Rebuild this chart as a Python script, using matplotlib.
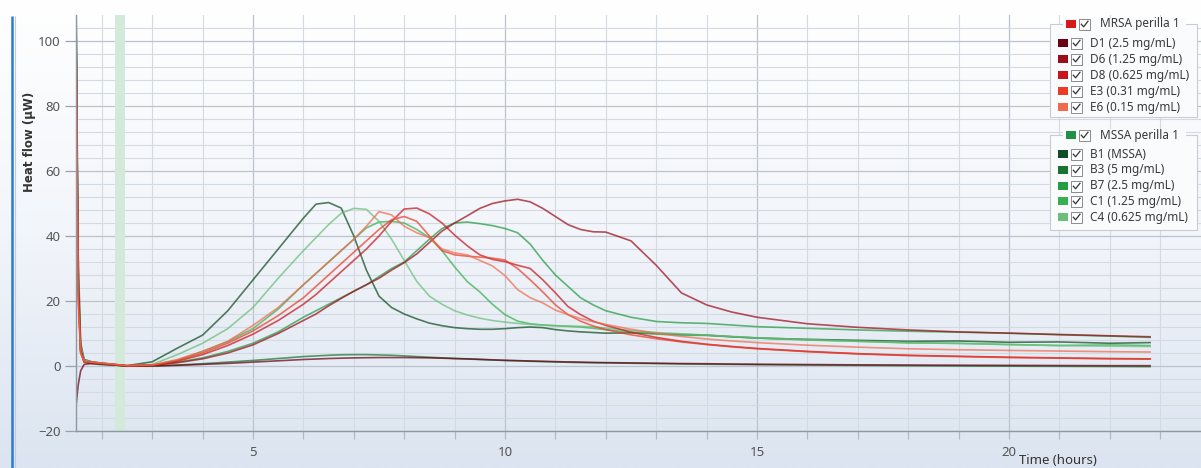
import numpy as np
import matplotlib
matplotlib.use('Agg')
import matplotlib.pyplot as plt
from matplotlib.patches import Rectangle
from matplotlib.lines import Line2D
from matplotlib.colors import LinearSegmentedColormap

# ---------------- data ----------------
time_h = [1.49, 1.53, 1.58, 1.65, 1.8, 2.0, 2.5, 3.0, 3.5, 4.0, 4.5, 5.0, 5.5, 6.0,
          6.25, 6.5, 6.75, 7.0, 7.25, 7.5, 7.75, 8.0, 8.25, 8.5, 8.75, 9.0, 9.25, 9.5,
          9.75, 10.0, 10.25, 10.5, 10.75, 11.0, 11.25, 11.5, 11.75, 12.0, 12.5, 13.0,
          13.5, 14.0, 14.5, 15.0, 16.0, 17.0, 18.0, 19.0, 20.0, 21.0, 22.0, 22.8]

mrsa_labels = ["D1 (2.5 mg/mL)", "D6 (1.25 mg/mL)", "D8 (0.625 mg/mL)",
               "E3 (0.31 mg/mL)", "E6 (0.15 mg/mL)"]
mssa_labels = ["B1 (MSSA)", "B3 (5 mg/mL)", "B7 (2.5 mg/mL)",
               "C1 (1.25 mg/mL)", "C4 (0.625 mg/mL)"]
group_titles = ["MRSA perilla 1", "MSSA perilla 1"]

D1 = [-12, -6, -1.5, 0.5, 0.8, 0.6, 0.0, 0.0, 0.2, 0.5, 0.8, 1.2, 1.6, 2.0,
      2.15, 2.3, 2.4, 2.5, 2.55, 2.6, 2.6, 2.6, 2.55, 2.5, 2.4, 2.3, 2.2, 2.05,
      1.9, 1.75, 1.65, 1.55, 1.45, 1.35, 1.25, 1.2, 1.1, 1.05, 0.95, 0.85,
      0.75, 0.7, 0.6, 0.55, 0.45, 0.35, 0.3, 0.25, 0.2, 0.15, 0.1, 0.1]
D6 = [106, 28, 5, 1.4, 1.0, 0.7, 0.0, 0.2, 1.0, 2.2, 4.0, 6.5, 10, 14,
      16, 18.5, 20.8, 23, 25, 27, 29.5, 31.8, 34.5, 38, 41.5, 44, 46.2, 48.5,
      50, 50.8, 51.3, 50.5, 48.5, 46, 43.5, 42, 41.3, 41.2, 38.5, 31,
      22.5, 18.8, 16.6, 15, 13, 11.9, 11.1, 10.5, 10.1, 9.7, 9.3, 9.0]
D8 = [100, 24, 4.5, 1.3, 1.2, 0.8, 0.1, 0.2, 1.5, 3.5, 6.3, 9.8, 14, 19,
      22, 25.5, 29, 32.5, 36, 40, 44.5, 48.3, 48.6, 46.8, 44, 40.3, 37, 34.2,
      32.8, 32.1, 31, 30, 26.5, 22.5, 18.3, 15.8, 13.8, 12.5, 10.4, 8.8,
      7.6, 6.7, 6.0, 5.4, 4.5, 3.8, 3.3, 3.0, 2.7, 2.5, 2.3, 2.2]
E3 = [98, 22, 4, 1.2, 1.1, 0.8, 0.1, 0.2, 1.7, 4, 7, 10.8, 15.5, 21,
      24.5, 28, 31.5, 35, 38.5, 42, 45, 46, 44.5, 40, 35.5, 34.2, 33.8, 33.5,
      33.2, 32.6, 30, 26.5, 22.8, 18.8, 15.8, 13.8, 12.3, 11.2, 9.6, 8.4,
      7.4, 6.6, 5.9, 5.3, 4.4, 3.7, 3.2, 2.9, 2.6, 2.4, 2.2, 2.1]
E6 = [96, 20, 4, 1.5, 1.2, 0.9, 0.1, 0.3, 2.0, 4.5, 7.6, 12.5, 18, 25,
      28.5, 32, 35.5, 39, 43, 47.5, 46.5, 43, 41, 39.5, 36, 34.8, 34.2, 32.5,
      30.8, 27.8, 23.5, 21, 19.4, 17.2, 15.8, 14.6, 13.6, 12.8, 11.3, 10.1,
      9.1, 8.3, 7.7, 7.2, 6.4, 5.8, 5.3, 5.0, 4.8, 4.6, 4.4, 4.3]

B1 = [112, 35, 7, 2.0, 1.3, 0.9, 0.1, 1.3, 5.5, 9.5, 17, 26.5, 36, 45.5,
      49.8, 50.3, 48.6, 40, 29.5, 21.5, 18, 16, 14.5, 13.2, 12.4, 11.8, 11.5, 11.3,
      11.3, 11.5, 11.8, 12.0, 11.8, 11.2, 10.8, 10.5, 10.3, 10.1, 10.2, 10.0,
      9.7, 9.5, 9.0, 8.6, 8.2, 7.9, 7.6, 7.7, 7.3, 7.4, 7.0, 7.2]
B3 = [102, 25, 4.5, 1.2, 0.7, 0.4, 0.0, 0.0, 0.3, 0.7, 1.2, 1.7, 2.3, 2.9,
      3.1, 3.3, 3.45, 3.5, 3.5, 3.4, 3.3, 3.1, 2.9, 2.7, 2.5, 2.3, 2.15, 2.0,
      1.85, 1.7, 1.6, 1.45, 1.35, 1.25, 1.15, 1.05, 1.0, 0.95, 0.85, 0.75,
      0.65, 0.55, 0.5, 0.4, 0.3, 0.2, 0.1, 0.0, -0.05, -0.1, -0.15, -0.2]
B7 = [100, 26, 5, 1.6, 1.1, 0.6, 0.0, 0.3, 1.2, 2.5, 4.5, 7, 10.5, 15,
      17, 19, 21, 23, 25, 27.5, 30, 32, 35.5, 39, 42.3, 44, 44.3, 43.8,
      43.2, 42.3, 41, 37.5, 32.5, 28, 24.5, 21, 18.8, 17, 15, 13.7,
      13.3, 13.1, 12.6, 12.1, 11.6, 11.1, 10.7, 10.4, 10.1, 9.6, 9.2, 8.8]
C1 = [104, 28, 5.5, 1.7, 1.2, 0.7, 0.0, 0.3, 1.8, 4.5, 7.5, 11.5, 17.5, 25,
      28.5, 32, 35.5, 39, 42.5, 44.3, 44.5, 44, 42, 39.5, 35.5, 30.5, 26, 22.8,
      19, 15.8, 13.8, 13.0, 12.6, 12.4, 12.2, 12.0, 11.6, 11.2, 10.4, 9.8,
      9.5, 9.4, 9.0, 8.6, 8.0, 7.6, 7.1, 7.0, 6.6, 6.3, 6.5, 6.3]
C4 = [108, 30, 6, 1.8, 1.2, 0.7, 0.0, 0.5, 3.5, 7, 11.5, 18, 27, 35.5,
      39.5, 43.5, 47, 48.5, 48.2, 44.5, 39, 32.5, 26, 21.5, 19, 17, 15.7, 14.7,
      14.0, 13.5, 13.1, 12.8, 12.6, 12.4, 12.3, 12.2, 12.0, 11.7, 10.9, 10.3,
      9.9, 9.5, 9.1, 8.7, 8.1, 7.6, 7.2, 6.9, 6.6, 6.3, 6.1, 6.0]

mrsa_series = [D1, D6, D8, E3, E6]
mssa_series = [B1, B3, B7, C1, C4]

# ---------------- styling ----------------
mrsa_colors = ['#6b0012', '#9c0d1a', '#c8141c', '#eb3b24', '#f26a4d']
mssa_colors = ['#0e4d22', '#16742f', '#249c42', '#37b04f', '#6bbf78']
header_colors = ['#d7191c', '#23904a']

W, H = 1201, 468
fig = plt.figure(figsize=(W / 100, H / 100), dpi=100)

# background gradient
bg = fig.add_axes([0, 0, 1, 1], zorder=0)
grad = np.linspace(0, 1, 256).reshape(-1, 1)
cmap = LinearSegmentedColormap.from_list('bg', ['#ffffff', '#f2f5fa', '#dbe4f0'])
bg.imshow(grad, aspect='auto', cmap=cmap, extent=[0, 1, 0, 1], origin='upper')
bg.axis('off')

# main axes
ax = fig.add_axes([76 / W, (H - 431) / H, (W - 76) / W, (431 - 15) / H], zorder=1)
ax.patch.set_alpha(0)
ax.set_xlim(1.488, 23.81)
ax.set_ylim(-20, 108)

ax.set_xticks([5, 10, 15, 20])
ax.set_xticks(np.arange(2, 24, 1), minor=True)
ax.set_yticks([-20, 0, 20, 40, 60, 80, 100])
ax.set_yticks(np.arange(-20, 108, 4), minor=True)
ax.grid(which='major', color='#bcc3cc', lw=0.9, zorder=0)
ax.grid(which='minor', color='#d4dae2', lw=0.8, zorder=0)
ax.set_axisbelow(True)
ax.tick_params(axis='y', which='major', length=8, width=0.9, color='#9aa3ad',
               labelsize=9.5, labelcolor='#555555', pad=3)
ax.tick_params(axis='y', which='minor', length=0)
ax.tick_params(axis='x', which='both', length=6, width=0.9, color='#b0b8c2',
               labelsize=9.5, labelcolor='#555555', pad=5)
for lab in ax.get_xticklabels() + ax.get_yticklabels():
    lab.set_family('Noto Sans')
for s in ['top', 'right']:
    ax.spines[s].set_visible(False)
for s in ['left', 'bottom']:
    ax.spines[s].set_color('#8e98a3')
    ax.spines[s].set_linewidth(1.0)

ax.axvspan(2.27, 2.47, color='#d3eadb', lw=0, zorder=0.6)

for vals, col in zip(mssa_series, mssa_colors):
    ax.plot(time_h, vals, color=col, lw=1.2, alpha=0.72, zorder=2)
for vals, col in zip(mrsa_series, mrsa_colors):
    ax.plot(time_h, vals, color=col, lw=1.2, alpha=0.72, zorder=2)

# overlay in pixel coordinates
ov = fig.add_axes([0, 0, 1, 1], zorder=5)
ov.set_xlim(0, W)
ov.set_ylim(H, 0)
ov.axis('off')
ov.patch.set_alpha(0)

# window border on the left
ov.plot([11.5, 11.5], [16, H], color='#2f78d6', lw=1.8, solid_capstyle='butt')
ov.plot([14.5, 14.5], [16, H], color='#b7cdeb', lw=0.8, solid_capstyle='butt')

ov.text(30, 142, 'Heat flow (µW)', rotation=90, ha='center', va='center',
        fontsize=8.5, fontweight='bold', color='#333333',
        family=['Liberation Sans Narrow', 'DejaVu Sans'])
ov.text(1058, 460, 'Time (hours)', ha='center', va='center', fontsize=9.5,
        fontweight='bold', color='#333333', family=['Noto Sans', 'DejaVu Sans'])


def checkbox(x, y):
    ov.add_patch(Rectangle((x, y - 5.5), 11, 11, facecolor='white',
                           edgecolor='#8c8c8c', lw=0.7, zorder=7))
    ov.add_line(Line2D([x + 2.3, x + 4.6, x + 9.0], [y + 0.2, y + 2.8, y - 2.8],
                       color='#333333', lw=0.9, zorder=8))


def legend_group(top, bottom, title, hcol, labels, cols, item_ys):
    ov.add_patch(Rectangle((1050, top), 147, bottom - top, facecolor='#fafbfd',
                           edgecolor='#c8cdd3', lw=0.8, zorder=6))
    ov.add_patch(Rectangle((1063, top - 6), 123, 12, facecolor='#fafbfd',
                           edgecolor='none', zorder=6.5))
    ov.add_patch(Rectangle((1066, top - 4), 10, 8, facecolor=hcol,
                           edgecolor='none', zorder=7))
    checkbox(1079, top)
    ov.text(1100, top, title, ha='left', va='center', fontsize=8.5,
            color='#3a3a3a', family='Noto Sans', zorder=8)
    for lab, col, yy in zip(labels, cols, item_ys):
        ov.add_patch(Rectangle((1058, yy - 4), 10, 8, facecolor=col,
                               edgecolor='none', zorder=7))
        checkbox(1071, yy)
        ov.text(1090, yy, lab, ha='left', va='center', fontsize=8.5,
                color='#3a3a3a', family='Noto Sans', zorder=8)


legend_group(24, 117, group_titles[0], header_colors[0], mrsa_labels,
             mrsa_colors, [43, 59, 75, 91, 107])
legend_group(135, 230, group_titles[1], header_colors[1], mssa_labels,
             mssa_colors, [154, 170, 186, 201, 217])

fig.savefig('out.png', dpi=100)
